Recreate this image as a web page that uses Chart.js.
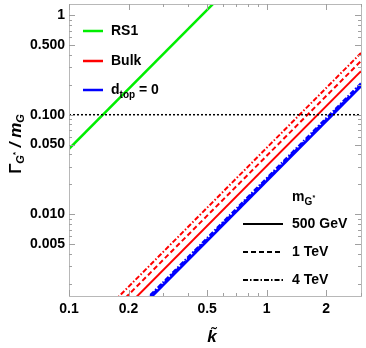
<!DOCTYPE html>
<html>
<head>
<meta charset="utf-8">
<script src="https://cdn.jsdelivr.net/npm/chart.js@4.4.0/dist/chart.umd.min.js"></script>
<style>
  html, body { margin: 0; padding: 0; background: #fff; }
  #wrap { width: 366px; height: 348px; }
</style>
</head>
<body>
<div id="wrap"><canvas id="width-chart"></canvas></div>
<script>
// k-tilde values at the two ends of every line (straight lines in log-log)
const kEnds = [0.1, 3];

// Gamma / m at k = 0.1 and k = 3
const rs1 = [0.0454, 40.9];
const bulk500 = [0.000305, 0.2745];
const bulk1000 = [0.000386, 0.347];
const bulk4000 = [0.000464, 0.418];
const dtop500 = [0.000215, 0.1935];
const dtop1000 = [0.000222, 0.1998];
const dtop4000 = [0.000229, 0.2061];
const refLine = [0.1, 0.1];

// axis ticks
const xTicks = [0.1, 0.2, 0.5, 1, 2];
const xTickLabels = ["0.1", "0.2", "0.5", "1", "2"];
const yTicks = [0.005, 0.01, 0.05, 0.1, 0.5, 1];
const yTickLabels = ["0.005", "0.010", "0.050", "0.100", "0.500", "1"];

function pts(vals) {
  return kEnds.map((k, i) => ({ x: k, y: vals[i] }));
}

const DASH = [5, 3];
const DOTDASH = [5, 2, 1.5, 2];

function serie(vals, color, dash, width) {
  return {
    data: pts(vals),
    showLine: true,
    borderColor: color,
    backgroundColor: color,
    borderWidth: width,
    borderDash: dash,
    pointRadius: 0,
    fill: false,
  };
}

// marco, marcas y leyendas al estilo Mathematica
const framePlugin = {
  id: "frame",
  afterDraw(chart) {
    const ctx = chart.ctx;
    const a = chart.chartArea;
    const xs = chart.scales.x;
    const ys = chart.scales.y;
    ctx.save();
    ctx.strokeStyle = "#b8b8b8";
    ctx.lineWidth = 1;
    ctx.strokeRect(a.left + 0.5, a.top + 0.5, a.right - a.left, a.bottom - a.top);

    ctx.strokeStyle = "#a0a0a0";
    // x marks
    for (let d = 0.1; d < 10; d *= 10) {
      for (let m = 1; m <= 9; m++) {
        const v = d * m;
        if (v < xs.min || v > xs.max) continue;
        const px = Math.round(xs.getPixelForValue(v)) + 0.5;
        const len = xTicks.some((t) => Math.abs(t - v) < 1e-9) ? 6 : 3;
        ctx.beginPath();
        ctx.moveTo(px, a.bottom);
        ctx.lineTo(px, a.bottom - len);
        ctx.moveTo(px, a.top);
        ctx.lineTo(px, a.top + len);
        ctx.stroke();
      }
    }
    // y marks
    for (let d = 0.001; d < 10; d *= 10) {
      for (let m = 1; m <= 9; m++) {
        const v = d * m;
        if (v < ys.min || v > ys.max) continue;
        const py = Math.round(ys.getPixelForValue(v)) + 0.5;
        const len = yTicks.some((t) => Math.abs(t - v) < 1e-9) ? 6 : 3;
        ctx.beginPath();
        ctx.moveTo(a.left, py);
        ctx.lineTo(a.left + len, py);
        ctx.moveTo(a.right, py);
        ctx.lineTo(a.right - len, py);
        ctx.stroke();
      }
    }

    ctx.fillStyle = "#000";
    ctx.textBaseline = "middle";
    ctx.textAlign = "left";
    const bold = "bold 14px 'Liberation Sans', Arial, sans-serif";
    const boldSmall = "bold 10px 'Liberation Sans', Arial, sans-serif";

    // leyenda de modelos
    const models = [
      { color: "#00ee00", y: 31, text: "RS1" },
      { color: "#ff0000", y: 61, text: "Bulk" },
      { color: "#0000ff", y: 90, text: "d" },
    ];
    models.forEach((m) => {
      ctx.strokeStyle = m.color;
      ctx.lineWidth = 2.5;
      ctx.setLineDash([]);
      ctx.beginPath();
      ctx.moveTo(83, m.y);
      ctx.lineTo(103, m.y);
      ctx.stroke();
      ctx.font = bold;
      ctx.fillText(m.text, 111, m.y);
    });
    let w = ctx.measureText("d").width;
    ctx.font = boldSmall;
    ctx.fillText("top", 111 + w, 95);
    w += ctx.measureText("top").width;
    ctx.font = bold;
    ctx.fillText(" = 0", 111 + w, 90);

    // leyenda de masas
    ctx.font = bold;
    ctx.fillText("m", 292, 197);
    let mw = ctx.measureText("m").width;
    ctx.font = boldSmall;
    ctx.fillText("G", 292 + mw, 202);
    ctx.font = "bold 7px 'Liberation Sans', Arial, sans-serif";
    ctx.fillText("*", 292 + mw + 8, 198);

    const masses = [
      { dash: [], y: 224, text: "500 GeV" },
      { dash: DASH, y: 252, text: "1 TeV" },
      { dash: DOTDASH, y: 280, text: "4 TeV" },
    ];
    masses.forEach((m) => {
      ctx.strokeStyle = "#000";
      ctx.lineWidth = 2;
      ctx.setLineDash(m.dash);
      ctx.beginPath();
      ctx.moveTo(243, m.y);
      ctx.lineTo(283, m.y);
      ctx.stroke();
      ctx.font = bold;
      ctx.fillText(m.text, 292, m.y);
    });
    ctx.setLineDash([]);

    // titulo eje y
    ctx.save();
    ctx.translate(16, (a.top + a.bottom) / 2 - 6);
    ctx.rotate(-Math.PI / 2);
    const big = "bold 17px 'Liberation Sans', Arial, sans-serif";
    const bigIt = "italic bold 17px 'Liberation Sans', Arial, sans-serif";
    const subIt = "italic bold 11px 'Liberation Sans', Arial, sans-serif";
    const parts = [
      { t: "\u0393", f: big, dy: 0 },
      { t: "G", f: subIt, dy: 5 },
      { t: "*", f: "bold 8px 'Liberation Sans', Arial, sans-serif", dy: 0 },
      { t: " / ", f: bigIt, dy: 0 },
      { t: "m", f: bigIt, dy: 0 },
      { t: "G", f: subIt, dy: 5 },
    ];
    let total = 0;
    parts.forEach((p) => { ctx.font = p.f; total += ctx.measureText(p.t).width; });
    let cx = -total / 2;
    parts.forEach((p) => {
      ctx.font = p.f;
      ctx.fillText(p.t, cx, p.dy);
      cx += ctx.measureText(p.t).width;
    });
    ctx.restore();

    // titulo eje x
    ctx.font = bigIt;
    ctx.textAlign = "center";
    ctx.fillText("k\u0303", (a.left + a.right) / 2 - 3, 337);
    ctx.restore();
  },
};

const ctx = document.getElementById("width-chart").getContext("2d");
new Chart(ctx, {
  type: "scatter",
  data: {
    datasets: [
      serie(refLine, "#000000", [2, 2], 1.5),
      serie(dtop500, "#0000ff", [], 2.5),
      serie(dtop1000, "#0000ff", DASH, 2.5),
      serie(dtop4000, "#0000ff", DOTDASH, 2.5),
      serie(bulk500, "#ff0000", [], 2),
      serie(bulk1000, "#ff0000", DASH, 2),
      serie(bulk4000, "#ff0000", DOTDASH, 2),
      serie(rs1, "#00ee00", [], 2.5),
    ],
  },
  options: {
    responsive: true,
    maintainAspectRatio: false,
    animation: false,
    layout: { padding: { top: 4, right: 5, left: 0, bottom: 0 } },
    plugins: {
      legend: { display: false },
      tooltip: { enabled: false },
    },
    scales: {
      x: {
        type: "logarithmic",
        min: 0.1,
        max: 3,
        grid: { display: false, drawTicks: false },
        border: { display: false },
        afterBuildTicks: (s) => { s.ticks = xTicks.map((v) => ({ value: v })); },
        afterFit: (s) => {
          s.height = 52;
          s.paddingLeft = 0;
          s.paddingRight = 0;
        },
        ticks: {
          autoSkip: false,
          maxRotation: 0,
          padding: 5,
          color: "#000",
          font: { size: 14, weight: "bold", family: "'Liberation Sans', Arial, sans-serif" },
          callback: (v, i) => xTickLabels[i],
        },
      },
      y: {
        type: "logarithmic",
        min: 0.0015,
        max: 1.3,
        grid: { display: false, drawTicks: false },
        border: { display: false },
        afterBuildTicks: (s) => { s.ticks = yTicks.map((v) => ({ value: v })); },
        afterFit: (s) => {
          s.width = 69;
          s.paddingTop = 0;
          s.paddingBottom = 0;
        },
        ticks: {
          autoSkip: false,
          padding: 4,
          color: "#000",
          font: { size: 14, weight: "bold", family: "'Liberation Sans', Arial, sans-serif" },
          callback: (v, i) => yTickLabels[i],
        },
      },
    },
  },
  plugins: [framePlugin],
});
</script>
</body>
</html>
